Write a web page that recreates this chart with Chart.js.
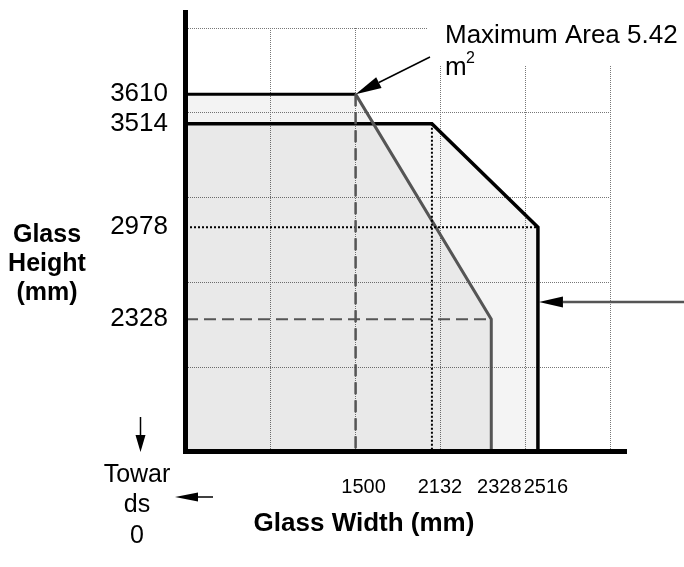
<!DOCTYPE html>
<html>
<head>
<meta charset="utf-8">
<script src="https://cdn.jsdelivr.net/npm/chart.js@4/dist/chart.umd.min.js"></script>
<style>
  html, body { margin: 0; padding: 0; background: #fff; }
</style>
</head>
<body>
<canvas id="glassChart" width="684" height="567"></canvas>
<script>
const widthTicks = [1500, 2132, 2328, 2516];
const heightTicks = [2328, 2978, 3514, 3610];

// outer size envelope
const outerWidths = [0, 2132, 2516, 2516];
const outerHeights = [3514, 3514, 2978, 0];

// maximum area envelope (5.42 m2)
const maxAreaWidths = [0, 1500, 2328, 2328];
const maxAreaHeights = [3610, 3610, 2328, 0];

const FONT = "'Liberation Sans', Arial, sans-serif";

const pts = (xs, ys) => xs.map((x, i) => ({x: x, y: ys[i]}));

// the drawing is not to scale: each labelled size sits at a fixed grid position
class SchematicScale extends Chart.LinearScale {
    static id = 'schematic';
    static defaults = {};

    toCell(v) {
        const ks = this.options.knots, cs = this.options.cells;
        let i = 1;
        while (i < ks.length - 1 && v > ks[i]) i++;
        return cs[i - 1] + (v - ks[i - 1]) * (cs[i] - cs[i - 1]) / (ks[i] - ks[i - 1]);
    }

    fromCell(c) {
        const ks = this.options.knots, cs = this.options.cells;
        let i = 1;
        while (i < cs.length - 1 && c > cs[i]) i++;
        return ks[i - 1] + (c - cs[i - 1]) * (ks[i] - ks[i - 1]) / (cs[i] - cs[i - 1]);
    }

    determineDataLimits() {
        this.min = this.fromCell(0);
        this.max = this.fromCell(this.options.cellCount);
    }

    buildTicks() {
        return this.options.tickValues.map(v => ({value: v}));
    }

    getPixelForValue(v) {
        return this.getPixelForDecimal(this.toCell(v) / this.options.cellCount);
    }

    getValueForPixel(p) {
        return this.fromCell(this.getDecimalForPixel(p) * this.options.cellCount);
    }
}
Chart.register(SchematicScale);

function arrow(ctx, x0, y0, x1, y1, headLen, headHalf, lineColor, lineWidth) {
    const a = Math.atan2(y1 - y0, x1 - x0);
    const bx = x1 - headLen * Math.cos(a), by = y1 - headLen * Math.sin(a);
    ctx.strokeStyle = lineColor;
    ctx.lineWidth = lineWidth;
    ctx.beginPath();
    ctx.moveTo(x0, y0);
    ctx.lineTo(bx, by);
    ctx.stroke();
    ctx.fillStyle = '#000';
    ctx.beginPath();
    ctx.moveTo(x1, y1);
    ctx.lineTo(bx + headHalf * Math.sin(a), by - headHalf * Math.cos(a));
    ctx.lineTo(bx - headHalf * Math.sin(a), by + headHalf * Math.cos(a));
    ctx.closePath();
    ctx.fill();
}

function label(ctx, str, x, y, size, bold, align) {
    ctx.font = (bold ? 'bold ' : '') + size + 'px ' + FONT;
    ctx.textAlign = align || 'center';
    ctx.textBaseline = 'alphabetic';
    ctx.fillStyle = '#000';
    ctx.fillText(str, x, y);
}

const decorations = {
    id: 'decorations',
    afterDraw(chart) {
        const {ctx, chartArea: area, scales: {x, y}} = chart;
        ctx.save();

        // clear grid behind the area note
        ctx.fillStyle = '#fff';
        ctx.fillRect(427, 0, chart.width - 427, 66);

        // axis lines
        ctx.strokeStyle = '#000';
        ctx.lineWidth = 5;
        ctx.lineCap = 'butt';
        ctx.beginPath();
        ctx.moveTo(area.left - 0.5, 10);
        ctx.lineTo(area.left - 0.5, area.bottom + 2);
        ctx.moveTo(area.left - 3, area.bottom - 0.5);
        ctx.lineTo(627, area.bottom - 0.5);
        ctx.stroke();

        // axis titles
        label(ctx, 'Glass', 47, 242, 25, true);
        label(ctx, 'Height', 47, 271, 25, true);
        label(ctx, '(mm)', 47, 300, 25, true);
        label(ctx, 'Glass Width (mm)', 364, 531, 26, true);

        // towards 0
        label(ctx, 'Towar', 137, 482, 25, false);
        label(ctx, 'ds', 137, 512, 25, false);
        label(ctx, '0', 137, 543, 25, false);
        arrow(ctx, 140.5, 417, 140.5, 452, 17, 5, '#000', 1.5);
        arrow(ctx, 213, 497, 175, 497, 23, 4.5, '#000', 1.5);

        // maximum area note
        label(ctx, 'Maximum Area 5.42', 445, 43, 26, false, 'left');
        label(ctx, 'm', 445, 75, 26, false, 'left');
        label(ctx, '2', 466, 63, 16, false, 'left');
        arrow(ctx, 430, 57,
            x.getPixelForValue(maxAreaWidths[1]), y.getPixelForValue(maxAreaHeights[1]),
            26, 6, '#000', 1.5);

        // pointer to the outer envelope
        arrow(ctx, chart.width, 302, x.getPixelForValue(outerWidths[2]) + 1, 302, 24, 5.5, '#555', 2.5);

        ctx.restore();
    }
};

const guide = (data, color, width, dash) => ({
    data: data,
    borderColor: color,
    borderWidth: width,
    borderDash: dash,
    fill: false,
    order: 1,
});

const noPad = s => { s.paddingTop = 0; s.paddingBottom = 0; s.paddingLeft = 0; s.paddingRight = 0; };

const config = {
    type: 'line',
    data: {
        datasets: [
            {
                label: 'Outer envelope',
                data: pts(outerWidths, outerHeights),
                borderColor: '#000',
                borderWidth: 3.5,
                backgroundColor: 'rgba(0,0,0,0.043)',
                fill: 'start',
                order: 4,
            },
            {
                label: 'Maximum area',
                data: pts(maxAreaWidths, maxAreaHeights),
                borderWidth: 3,
                backgroundColor: 'rgba(0,0,0,0.049)',
                fill: 'start',
                segment: {
                    borderColor: ctx => ctx.p0DataIndex === 0 ? '#000' : '#555',
                },
                order: 3,
            },
            guide([{x: maxAreaWidths[1], y: maxAreaHeights[1]}, {x: maxAreaWidths[1], y: 0}], '#555', 2.5, [12, 6]),
            guide([{x: 0, y: maxAreaHeights[2]}, {x: maxAreaWidths[2], y: maxAreaHeights[2]}], '#555', 2, [12, 6]),
            guide([{x: outerWidths[1], y: outerHeights[1]}, {x: outerWidths[1], y: 0}], '#000', 2, [2, 2]),
            guide([{x: 0, y: outerHeights[2]}, {x: outerWidths[2], y: outerHeights[2]}], '#000', 2, [2, 2]),
        ],
    },
    options: {
        responsive: false,
        animation: false,
        devicePixelRatio: 1,
        events: [],
        layout: {padding: {top: 28, right: 74, bottom: 0, left: 0}},
        elements: {
            point: {radius: 0, hoverRadius: 0},
            line: {tension: 0, borderJoinStyle: 'miter', borderCapStyle: 'butt'},
        },
        clip: false,
        plugins: {
            legend: {display: false},
            tooltip: {enabled: false},
        },
        scales: {
            x: {
                type: 'schematic',
                position: 'bottom',
                knots: [0, 1500, 2132, 2328, 2516],
                cells: [0, 2, 2.9, 3.6, 4.15],
                cellCount: 5,
                tickValues: widthTicks,
                grid: {display: false, drawTicks: false},
                border: {display: false},
                ticks: {
                    autoSkip: false,
                    maxRotation: 0,
                    minRotation: 0,
                    padding: 23,
                    labelOffset: 8,
                    color: '#000',
                    font: {family: FONT, size: 20},
                    callback: v => String(v),
                },
                afterFit: s => { noPad(s); s.height = 115; },
            },
            y: {
                type: 'schematic',
                position: 'left',
                knots: [0, 2328, 2978, 3514, 3610],
                cells: [0, 1.565, 2.65, 3.87, 4.22],
                cellCount: 5,
                tickValues: heightTicks,
                grid: {display: false, drawTicks: false},
                border: {display: false},
                ticks: {
                    autoSkip: false,
                    padding: 18,
                    labelOffset: 0,
                    color: '#000',
                    font: {family: FONT, size: 26},
                    callback: v => String(v),
                },
                afterFit: s => { noPad(s); s.width = 186; },
            },
            gx: {
                type: 'linear',
                position: 'top',
                min: 0,
                max: 5,
                ticks: {display: false, stepSize: 1},
                grid: {color: '#777', lineWidth: 1, drawTicks: false},
                border: {display: false, dash: [1, 1]},
                afterFit: s => { noPad(s); s.height = 0; },
            },
            gy: {
                type: 'linear',
                position: 'right',
                min: 0,
                max: 5,
                ticks: {display: false, stepSize: 1},
                grid: {color: '#777', lineWidth: 1, drawTicks: false},
                border: {display: false, dash: [1, 1]},
                afterFit: s => { noPad(s); s.width = 0; },
            },
        },
    },
    plugins: [decorations],
};

const glassChart = new Chart(document.getElementById('glassChart'), config);
</script>
</body>
</html>
